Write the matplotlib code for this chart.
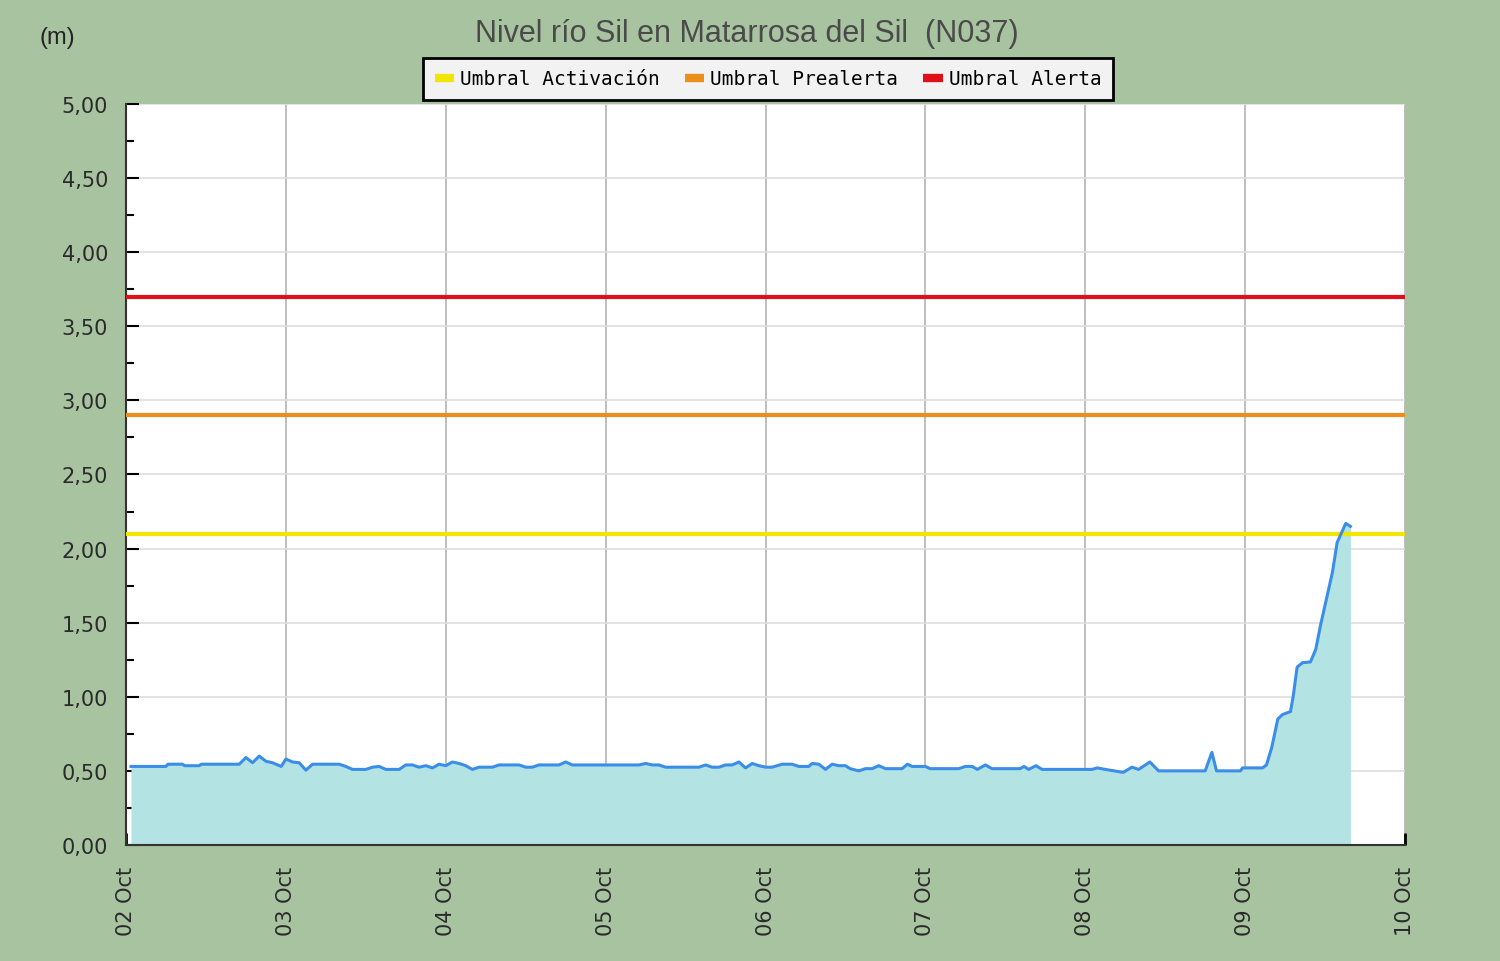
import matplotlib
matplotlib.use("Agg")
import matplotlib.pyplot as plt
from matplotlib.lines import Line2D
from matplotlib.ticker import MultipleLocator

# ---- data ----
title = "Nivel río Sil en Matarrosa del Sil  (N037)"
day_labels = ["02 Oct", "03 Oct", "04 Oct", "05 Oct", "06 Oct", "07 Oct", "08 Oct", "09 Oct", "10 Oct"]
hours = [0.75, 6.0, 6.3, 8.5, 8.8, 11.0, 11.3, 17.0, 18.0, 19.0, 20.0, 21.0, 22.0, 23.3,
         24.0, 25.0, 26.0, 27.0, 28.0, 32.0, 33.0, 34.0, 36.0, 37.0, 38.0, 39.0, 41.0, 42.0,
         43.0, 44.0, 45.0, 46.0, 47.0, 48.0, 49.0, 50.0, 51.0, 52.0, 53.0, 55.0, 56.0, 59.0,
         60.0, 61.0, 62.0, 65.0, 66.0, 67.0, 77.0, 78.0, 79.0, 80.0, 81.0, 86.0, 87.0, 88.0,
         89.0, 90.0, 91.0, 92.0, 93.0, 94.0, 95.0, 96.0, 97.0, 98.5, 100.0, 101.0, 102.5,
         103.0, 104.0, 105.0, 106.0, 107.0, 108.0, 108.7, 110.0, 111.0, 112.0, 113.0, 114.0,
         116.5, 117.3, 118.0, 120.0, 120.7, 125.0, 126.0, 127.0, 127.8, 129.0, 130.0, 134.2,
         134.8, 135.5, 136.6, 137.5, 145.0, 145.8, 147.0, 149.7, 151.0, 152.0, 153.7, 155.0,
         162.0, 163.0, 163.7, 167.3, 167.6, 170.6, 171.2, 172.0, 172.9, 173.6, 174.8, 175.2,
         175.8, 176.6, 177.8, 178.6, 179.3, 180.3, 181.1, 181.8, 182.6, 183.1, 183.8]
levels = [0.53, 0.53, 0.545, 0.545, 0.535, 0.535, 0.545, 0.545, 0.59, 0.555, 0.60, 0.565, 0.555, 0.53,
          0.58, 0.56, 0.555, 0.505, 0.545, 0.545, 0.53, 0.51, 0.51, 0.525, 0.53, 0.51, 0.51, 0.54,
          0.54, 0.525, 0.535, 0.52, 0.545, 0.535, 0.56, 0.55, 0.535, 0.51, 0.525, 0.525, 0.54, 0.54,
          0.525, 0.525, 0.54, 0.54, 0.56, 0.54, 0.54, 0.55, 0.54, 0.54, 0.525, 0.525, 0.54, 0.525,
          0.525, 0.54, 0.54, 0.56, 0.52, 0.55, 0.535, 0.525, 0.525, 0.545, 0.545, 0.53, 0.53,
          0.55, 0.545, 0.51, 0.545, 0.535, 0.535, 0.515, 0.50, 0.515, 0.515, 0.535, 0.515,
          0.515, 0.545, 0.53, 0.53, 0.515, 0.515, 0.53, 0.53, 0.51, 0.54, 0.515, 0.515,
          0.53, 0.51, 0.535, 0.51, 0.51, 0.52, 0.51, 0.49, 0.525, 0.51, 0.56, 0.50,
          0.50, 0.625, 0.50, 0.50, 0.52, 0.52, 0.54, 0.66, 0.85, 0.88, 0.90, 1.00,
          1.20, 1.23, 1.235, 1.32, 1.48, 1.68, 1.84, 2.04, 2.12, 2.17, 2.15]
threshold_names = ["Umbral Activación", "Umbral Prealerta", "Umbral Alerta"]
threshold_values = [2.10, 2.90, 3.70]
threshold_colors = ["#f2e600", "#ea8f1c", "#e0101a"]

# ---- figure ----
bg = "#a8c3a0"
fig = plt.figure(figsize=(15, 9.62), dpi=100, facecolor=bg)
ax = fig.add_axes([0.084, 0.1206, 0.8527, 0.7703])
ax.set_facecolor("white")

days = [h / 24.0 for h in hours]
ax.fill_between(days, 0, levels, color="#b3e3e3", linewidth=0, zorder=2)
ax.plot(days, levels, color="#3b8ee8", linewidth=2.2, zorder=4)

for v, c in zip(threshold_values, threshold_colors):
    ax.axhline(v, color=c, linewidth=3, zorder=3)

ax.set_xlim(0, len(day_labels) - 1)
ax.set_ylim(0, 5)
ax.set_xticks(range(len(day_labels)))
ax.set_xticklabels(day_labels, rotation=90, fontsize=15, color="#2a2a2a", family="DejaVu Sans")
ax.yaxis.set_major_locator(MultipleLocator(0.5))
ax.yaxis.set_minor_locator(MultipleLocator(0.25))
ax.set_yticks([i * 0.5 for i in range(11)])
ax.set_yticklabels([f"{i*0.5:.2f}".replace(".", ",") for i in range(11)], fontsize=15,
                   color="#2a2a2a", family="DejaVu Sans")
ax.tick_params(axis="y", which="major", direction="in", length=9, width=1.5, color="black", pad=13)
ax.tick_params(axis="y", which="minor", direction="in", length=6, width=1.5, color="black")
ax.tick_params(axis="x", which="major", direction="in", length=9, width=2, color="black", pad=15)

ax.grid(axis="x", color="#b4b4b4", linewidth=1.2, zorder=1)
ax.grid(axis="y", which="major", color="#dedede", linewidth=1.2, zorder=1)
ax.set_axisbelow(True)
for s in ["top", "right"]:
    ax.spines[s].set_visible(False)
for s in ["left", "bottom"]:
    ax.spines[s].set_color("#333333")
    ax.spines[s].set_linewidth(1.5)

fig.text(0.498, 0.965, title, ha="center", va="center", fontsize=22, color="#4a4a4a",
         family="Liberation Sans")
fig.text(0.038, 0.961, "(m)", ha="center", va="center", fontsize=17, color="#222222",
         family="Liberation Sans")

handles = [Line2D([0], [0], color=c, linewidth=6, solid_capstyle="butt") for c in threshold_colors]
leg = fig.legend(handles, threshold_names, loc="center", bbox_to_anchor=(0.512, 0.917), ncol=3,
                 frameon=True, fancybox=False, handlelength=1.0, handletextpad=0.3,
                 columnspacing=1.3, borderpad=0.6,
                 prop={"family": "DejaVu Sans Mono", "size": 14})
leg.get_frame().set_facecolor("#f2f2f2")
leg.get_frame().set_edgecolor("black")
leg.get_frame().set_linewidth(2)
leg.get_frame().set_alpha(1)

fig.savefig("out.png", dpi=100, facecolor=bg)
